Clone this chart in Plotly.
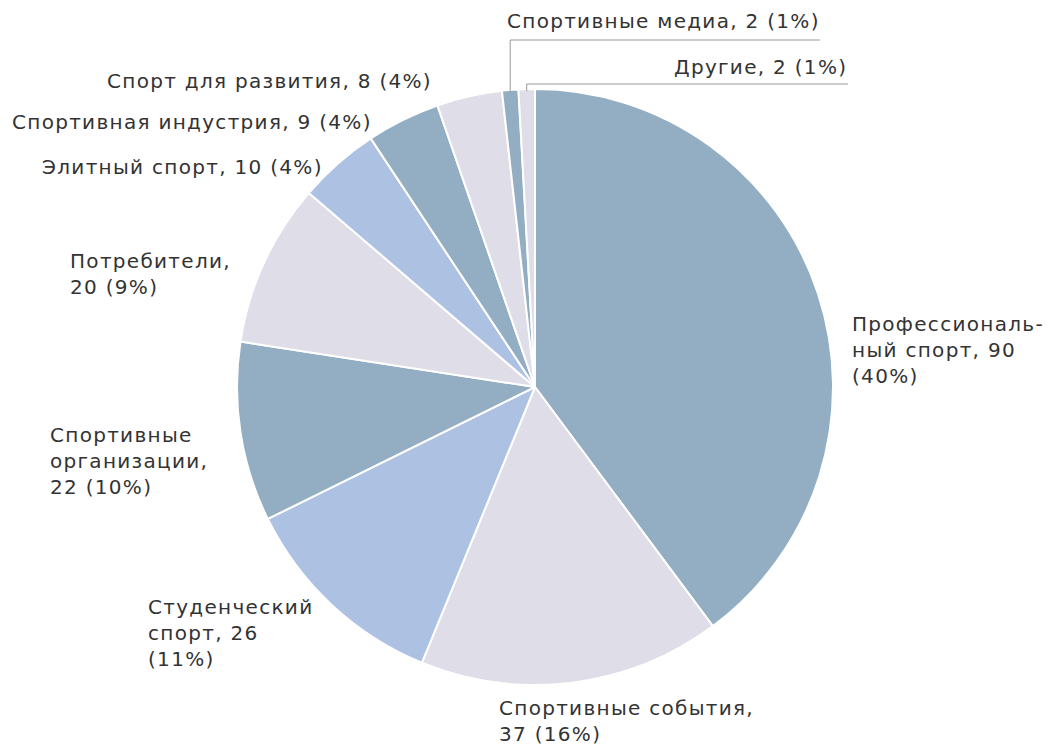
import math
import plotly.graph_objects as go

categories = ["Профессиональный спорт", "Спортивные события", "Студенческий спорт",
              "Спортивные организации", "Потребители", "Элитный спорт",
              "Спортивная индустрия", "Спорт для развития", "Спортивные медиа", "Другие"]
values = [90, 37, 26, 22, 20, 10, 9, 8, 2, 2]
label_lines = [
    ["Профессиональ-", "ный спорт, 90", "(40%)"],
    ["Спортивные события,", "37 (16%)"],
    ["Студенческий", "спорт, 26", "(11%)"],
    ["Спортивные", "организации,", "22 (10%)"],
    ["Потребители,", "20 (9%)"],
    ["Элитный спорт, 10 (4%)"],
    ["Спортивная индустрия, 9 (4%)"],
    ["Спорт для развития, 8 (4%)"],
    ["Спортивные медиа, 2 (1%)"],
    ["Другие, 2 (1%)"],
]

STEEL = "#93AEC2"
LAV = "#DEDDE8"
LIGHT = "#ADC2E3"
colors = [STEEL, LAV, LIGHT, STEEL, LAV, LIGHT, STEEL, LAV, STEEL, LAV]

OFF = 8  # default page body margin
W, H = 1062 - OFF, 745 - OFF
cx, cy, r = 535 - OFF, 387 - OFF, 298  # pixel geometry of the pie (in figure px)

fig = go.Figure(go.Pie(
    labels=categories, values=values, sort=False, direction="clockwise",
    rotation=0, textinfo="none", hoverinfo="label+value+percent",
    marker=dict(colors=colors, line=dict(color="white", width=2)),
    domain=dict(x=[(cx - r) / W, (cx + r) / W], y=[(H - cy - r) / H, (H - cy + r) / H]),
    showlegend=False,
))

def px(x):
    return (x - OFF) / W

def py(y):
    return 1 - (y - OFF) / H

# label positions (reference page pixel anchors)
label_pos = [
    (850, 350, "left"),
    (497, 721, "left"),
    (146, 633, "left"),
    (48, 461, "left"),
    (68, 274, "left"),
    (40, 167, "left"),
    (10, 122, "left"),
    (434, 81, "right"),
    (505, 21, "left"),
    (849, 67, "right"),
]

SP = '<span style="letter-spacing:1.3px">{}</span>'
annotations = []
for lines, (x, y, al) in zip(label_lines, label_pos):
    txt = "<br>".join(SP.format(t) for t in lines)
    annotations.append(dict(
        x=px(x), y=py(y), xref="paper", yref="paper", text=txt, showarrow=False,
        xanchor=al, yanchor="middle", align="left",
        font=dict(family="DejaVu Sans", size=20, color="#333333"),
    ))

# leader lines for the two tiny slices, computed from the data
total = sum(values)
cum = 0
mids = []
for v in values:
    mids.append((cum + v / 2) / total)
    cum += v
shapes = []
for idx, (ylev, xend) in [(8, (40, 820)), (9, (84, 848))]:
    ang = 2 * math.pi * mids[idx]
    x0 = cx + OFF + r * math.sin(ang)
    y0 = cy + OFF - r * math.cos(ang)
    shapes.append(dict(type="path", xref="paper", yref="paper",
                       path=f"M {px(x0)} {py(y0 + 2)} L {px(x0)} {py(ylev)} L {px(xend)} {py(ylev)}",
                       line=dict(color="#999999", width=1)))

fig.update_layout(
    width=W, height=H, margin=dict(l=0, r=0, t=0, b=0),
    paper_bgcolor="white", plot_bgcolor="white",
    annotations=annotations, shapes=shapes,
)

fig.write_html("out.html")
